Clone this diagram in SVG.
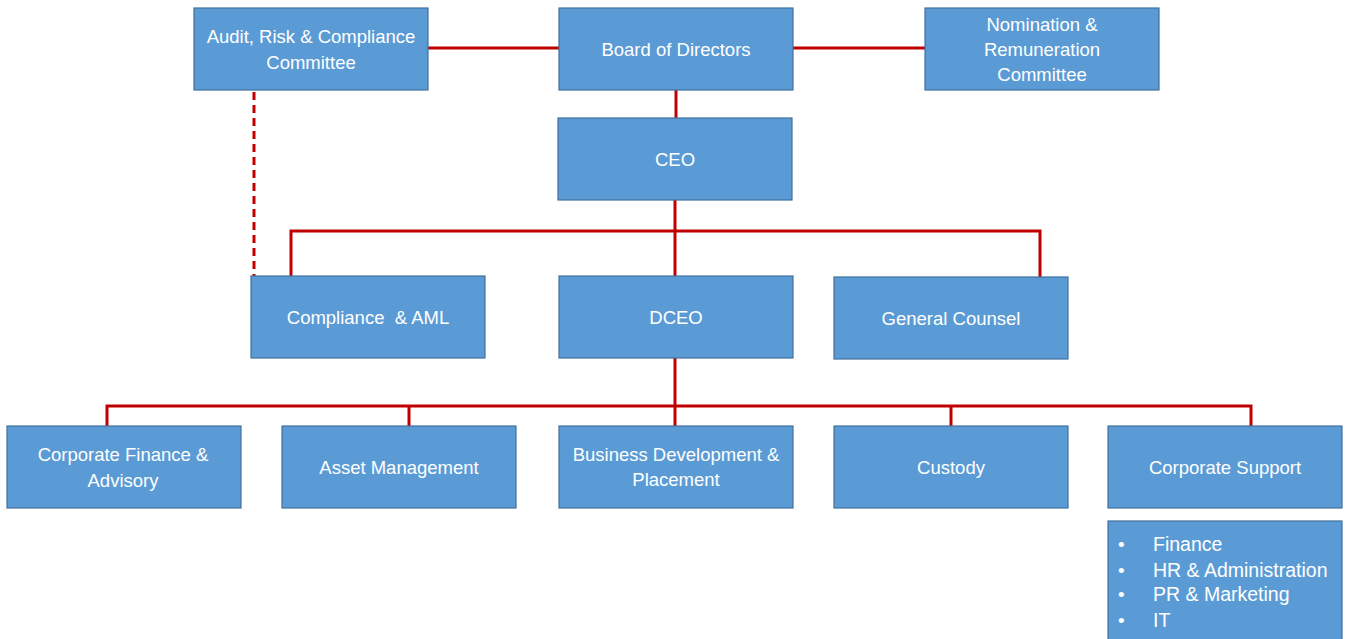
<svg xmlns="http://www.w3.org/2000/svg" width="1349" height="639" viewBox="0 0 1349 639">
<style>
.box{fill:#5B9BD5;stroke:#41719C;stroke-width:1.2}
.t{font-family:"Liberation Sans",Arial,sans-serif;font-size:18.5px;fill:#FFFFFF;text-anchor:middle;white-space:pre}
.l{font-family:"Liberation Sans",Arial,sans-serif;font-size:19.5px;fill:#FFFFFF}
.b{font-family:"Liberation Sans",Arial,sans-serif;font-size:19px;fill:#FFFFFF}
.c{stroke:#C00000;stroke-width:3;fill:none}
.d{stroke:#C00000;stroke-width:3;fill:none;stroke-dasharray:8,5}
</style>
<rect width="1349" height="639" fill="#FFFFFF"/>
<g id="connectors">
<line class="c" x1="428" y1="48" x2="559" y2="48"/>
<line class="c" x1="793" y1="48" x2="925" y2="48"/>
<line class="c" x1="676" y1="90" x2="676" y2="118"/>
<line class="c" x1="675" y1="200" x2="675" y2="276"/>
<polyline class="c" points="291,276 291,231 1040,231 1040,277"/>
<line class="d" x1="254" y1="92" x2="254" y2="276"/>
<line class="c" x1="675" y1="358" x2="675" y2="426"/>
<polyline class="c" points="107,426 107,406 1251,406 1251,426"/>
<line class="c" x1="409" y1="406" x2="409" y2="426"/>
<line class="c" x1="951" y1="406" x2="951" y2="426"/>
</g>
<g id="audit"><rect class="box" x="194" y="8" width="234" height="82"/><text class="t" x="311" y="43">Audit, Risk &amp; Compliance</text><text class="t" x="311" y="69">Committee</text></g>
<g id="board"><rect class="box" x="559" y="8" width="234" height="82"/><text class="t" x="676" y="56">Board of Directors</text></g>
<g id="nomination"><rect class="box" x="925" y="8" width="234" height="82"/><text class="t" x="1042" y="31">Nomination &amp;</text><text class="t" x="1042" y="56">Remuneration</text><text class="t" x="1042" y="81">Committee</text></g>
<g id="ceo"><rect class="box" x="558" y="118" width="234" height="82"/><text class="t" x="675" y="166">CEO</text></g>
<g id="compliance"><rect class="box" x="251" y="276" width="234" height="82"/><text class="t" x="368" y="324" xml:space="preserve">Compliance  &amp; AML</text></g>
<g id="dceo"><rect class="box" x="559" y="276" width="234" height="82"/><text class="t" x="676" y="324">DCEO</text></g>
<g id="counsel"><rect class="box" x="834" y="277" width="234" height="82"/><text class="t" x="951" y="325">General Counsel</text></g>
<g id="corpfin"><rect class="box" x="7" y="426" width="234" height="82"/><text class="t" x="123" y="461">Corporate Finance &amp;</text><text class="t" x="123" y="487">Advisory</text></g>
<g id="asset"><rect class="box" x="282" y="426" width="234" height="82"/><text class="t" x="399" y="474">Asset Management</text></g>
<g id="bizdev"><rect class="box" x="559" y="426" width="234" height="82"/><text class="t" x="676" y="461">Business Development &amp;</text><text class="t" x="676" y="486">Placement</text></g>
<g id="custody"><rect class="box" x="834" y="426" width="234" height="82"/><text class="t" x="951" y="474">Custody</text></g>
<g id="corpsupport"><rect class="box" x="1108" y="426" width="234" height="82"/><text class="t" x="1225" y="474">Corporate Support</text></g>
<g id="supportlist"><rect class="box" x="1108" y="521" width="234" height="125"/>
<text class="b" x="1118" y="551">•</text><text class="l" x="1153" y="551">Finance</text>
<text class="b" x="1118" y="577">•</text><text class="l" x="1153" y="577">HR &amp; Administration</text>
<text class="b" x="1118" y="601">•</text><text class="l" x="1153" y="601">PR &amp; Marketing</text>
<text class="b" x="1118" y="627">•</text><text class="l" x="1153" y="627">IT</text>
</g>
</svg>
